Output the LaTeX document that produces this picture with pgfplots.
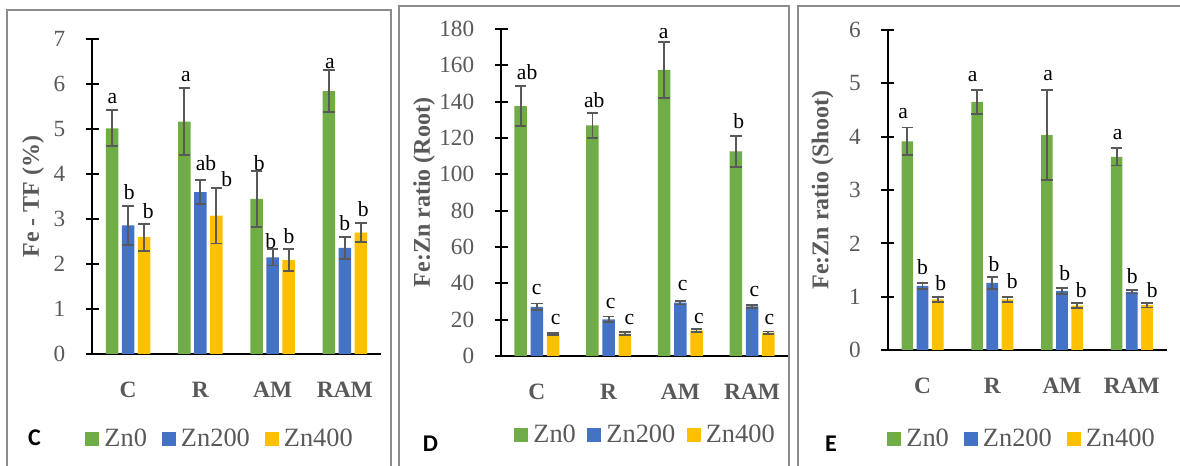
\documentclass[border=0pt]{standalone}
\usepackage{pgfplots}
\pgfplotsset{compat=1.18}
\usepackage{fontspec}
\setmainfont{Liberation Serif}
\newfontfamily\carlito{Carlito}
\definecolor{cgreen}{HTML}{70AD47}
\definecolor{cblue}{HTML}{4472C4}
\definecolor{cyellow}{HTML}{FFC000}
\definecolor{tickgray}{HTML}{595959}
\definecolor{errgray}{HTML}{595959}
\definecolor{bordergray}{HTML}{8C8C8C}
\tikzset{lett/.style={anchor=base, inner sep=0pt, font=\fontsize{10.8}{12}\selectfont, text=black},
  plab/.style={anchor=center, inner sep=0pt, font=\carlito\bfseries\fontsize{12}{14}\selectfont, text=black}}
\pgfplotsset{
 sqleg/.style={legend image code/.code={\draw[##1,draw=none] (0pt,-3.5pt) rectangle (7pt,3.5pt);}},
 panel/.style={
  scale only axis,
  anchor=south west,
  axis lines*=left,
  axis line style={black, line width=1pt},
  ybar,
  ymin=0,
  xmin=-0.5, xmax=3.5,
  xtick={0,1,2,3}, xticklabels={C,R,AM,RAM},
  xtick style={draw=none},
  ytick style={black, line width=1pt},
  tick align=center,
  major tick length=6.5pt,
  /pgf/number format/assume math mode=true,
  yticklabel style={font=\fontsize{11.6}{13}\selectfont, text=tickgray, anchor=east, inner sep=0pt, xshift=-10pt},
  xticklabel style={font=\bfseries\fontsize{11.7}{13}\selectfont, text=tickgray, anchor=base, inner sep=0pt, yshift=-18.3pt},
  every axis y label/.style={rotate=90, anchor=center, font=\bfseries\fontsize{12}{14}\selectfont, text=tickgray},
  legend columns=3,
  legend style={draw=none, fill=none, inner sep=0pt, anchor=west, font=\fontsize{13.2}{15}\selectfont, text=tickgray, nodes={inner sep=0pt}, /tikz/every odd column/.append style={column sep=2.5pt}, /tikz/every even column/.append style={column sep=7.5pt}},
  error bars/y dir=both, error bars/y explicit,
  error bars/error bar style={errgray, line width=0.9pt},
  error bars/error mark options={rotate=90, mark size=2.9pt, line width=0.9pt, errgray},
 }
}
\begin{document}
\begin{tikzpicture}
\useasboundingbox (0,0) rectangle (590pt,233pt);
% panel borders
\draw[bordergray, line width=1pt] (3.6pt,-2pt) -- (3.6pt,227.85pt) -- (195.35pt,227.85pt) -- (195.35pt,-2pt);
\draw[bordergray, line width=1pt] (199.5pt,-2pt) -- (199.5pt,229.85pt) -- (394.5pt,229.85pt) -- (394.5pt,-2pt);
\draw[bordergray, line width=1pt] (398.85pt,-2pt) -- (398.85pt,229.85pt) -- (595pt,229.85pt);

% ---------------- Panel C ----------------
\begin{axis}[panel, at={(46pt,56pt)}, width=144.5pt, height=157.35pt,
  ymax=7, ytick={0,1,...,7},
  ylabel={Fe - TF (\%)},
  every axis y label/.append style={at={(axis description cs:-0.204,0.5)}},
  legend style={at={(axis description cs:-0.024,-0.270)}}]
\addplot[fill=cgreen, draw=none, bar width=6.25pt, bar shift=-8pt, sqleg] coordinates {(0,5.02) +- (0,0.40) (1,5.17) +- (0,0.74) (2,3.45) +- (0,0.62) (3,5.85) +- (0,0.47)};
\addplot[fill=cblue, draw=none, bar width=6.25pt, bar shift=0pt, sqleg] coordinates {(0,2.86) +- (0,0.43) (1,3.60) +- (0,0.27) (2,2.15) +- (0,0.18) (3,2.36) +- (0,0.24)};
\addplot[fill=cyellow, draw=none, bar width=6.25pt, bar shift=8pt, sqleg] coordinates {(0,2.60) +- (0,0.30) (1,3.08) +- (0,0.62) (2,2.09) +- (0,0.24) (3,2.70) +- (0,0.21)};
\legend{Zn0,Zn200,Zn400}
\node[lett] at ([xshift=-7.9pt]axis cs:0,5.57) {a};
\node[lett] at ([xshift=0.6pt]axis cs:0,3.44) {b};
\node[lett] at ([xshift=10.1pt]axis cs:0,3.02) {b};
\node[lett] at ([xshift=-7.2pt]axis cs:1,6.07) {a};
\node[lett] at ([xshift=2.8pt]axis cs:1,4.09) {ab};
\node[lett] at ([xshift=13.15pt]axis cs:1,3.73) {b};
\node[lett] at ([xshift=-6.65pt]axis cs:2,4.09) {b};
\node[lett] at ([xshift=-0.95pt]axis cs:2,2.35) {b};
\node[lett] at ([xshift=8.2pt]axis cs:2,2.46) {b};
\node[lett] at ([xshift=-7.45pt]axis cs:3,6.35) {a};
\node[lett] at ([xshift=0pt]axis cs:3,2.74) {b};
\node[lett] at ([xshift=9.2pt]axis cs:3,3.05) {b};
\end{axis}
\node[plab] at (17.25pt,14.25pt) {C};

% ---------------- Panel D ----------------
\begin{axis}[panel, at={(250.5pt,55pt)}, width=143.5pt, height=163.5pt,
  ymax=180, ytick={0,20,...,180},
  ylabel={Fe:Zn ratio (Root)},
  every axis y label/.append style={at={(axis description cs:-0.268,0.5)}},
  legend style={at={(axis description cs:0.0453,-0.243)}, /tikz/every even column/.append style={column sep=5.75pt}}]
\addplot[fill=cgreen, draw=none, bar width=6.3pt, bar shift=-8.1pt, sqleg] coordinates {(0,137.5) +- (0,11) (1,127) +- (0,6.8) (2,157.5) +- (0,15.5) (3,112.6) +- (0,8.4)};
\addplot[fill=cblue, draw=none, bar width=6.3pt, bar shift=0pt, sqleg] coordinates {(0,27.1) +- (0,1.8) (1,20.2) +- (0,1.5) (2,29.4) +- (0,1.0) (3,27.3) +- (0,0.9)};
\addplot[fill=cyellow, draw=none, bar width=6.3pt, bar shift=8.1pt, sqleg] coordinates {(0,12.1) +- (0,0.7) (1,12.3) +- (0,0.9) (2,14.0) +- (0,0.9) (3,12.8) +- (0,0.7)};
\legend{Zn0,Zn200,Zn400}
\node[lett] at ([xshift=-4.85pt]axis cs:0,152.3) {ab};
\node[lett] at ([xshift=-0.1pt]axis cs:0,33.6) {c};
\node[lett] at ([xshift=9.4pt]axis cs:0,17.1) {c};
\node[lett] at ([xshift=-7.2pt]axis cs:1,136.9) {ab};
\node[lett] at ([xshift=1.05pt]axis cs:1,26.2) {c};
\node[lett] at ([xshift=10.35pt]axis cs:1,17.1) {c};
\node[lett] at ([xshift=-8.35pt]axis cs:2,174.5) {a};
\node[lett] at ([xshift=1.15pt]axis cs:2,35.8) {c};
\node[lett] at ([xshift=9.3pt]axis cs:2,18.0) {c};
\node[lett] at ([xshift=-6.7pt]axis cs:3,125.3) {b};
\node[lett] at ([xshift=1.1pt]axis cs:3,32.6) {c};
\node[lett] at ([xshift=8.6pt]axis cs:3,17.1) {c};
\end{axis}
\node[plab] at (215.25pt,11.25pt) {D};

% ---------------- Panel E ----------------
\begin{axis}[panel, at={(443.85pt,58pt)}, width=139.5pt, height=160pt,
  ymax=6, ytick={0,1,...,6},
  ylabel={Fe:Zn ratio (Shoot)},
  every axis y label/.append style={at={(axis description cs:-0.233,0.5)}},
  legend style={at={(axis description cs:-0.0025,-0.278)}}]
\addplot[fill=cgreen, draw=none, bar width=5.85pt, bar shift=-7.6pt, sqleg] coordinates {(0,3.91) +- (0,0.26) (1,4.65) +- (0,0.22) (2,4.03) +- (0,0.85) (3,3.62) +- (0,0.16)};
\addplot[fill=cblue, draw=none, bar width=5.85pt, bar shift=0pt, sqleg] coordinates {(0,1.20) +- (0,0.055) (1,1.26) +- (0,0.11) (2,1.11) +- (0,0.055) (3,1.09) +- (0,0.03)};
\addplot[fill=cyellow, draw=none, bar width=5.85pt, bar shift=7.6pt, sqleg] coordinates {(0,0.95) +- (0,0.05) (1,0.95) +- (0,0.05) (2,0.83) +- (0,0.05) (3,0.84) +- (0,0.045)};
\legend{Zn0,Zn200,Zn400}
\node[lett] at ([xshift=-9.65pt]axis cs:0,4.34) {a};
\node[lett] at ([xshift=0pt]axis cs:0,1.42) {b};
\node[lett] at ([xshift=9.05pt]axis cs:0,1.11) {b};
\node[lett] at ([xshift=-9.8pt]axis cs:1,5.03) {a};
\node[lett] at ([xshift=0.85pt]axis cs:1,1.47) {b};
\node[lett] at ([xshift=10pt]axis cs:1,1.16) {b};
\node[lett] at ([xshift=-6.9pt]axis cs:2,5.06) {a};
\node[lett] at ([xshift=1.3pt]axis cs:2,1.31) {b};
\node[lett] at ([xshift=9.6pt]axis cs:2,0.98) {b};
\node[lett] at ([xshift=-7.05pt]axis cs:3,3.94) {a};
\node[lett] at ([xshift=0.25pt]axis cs:3,1.25) {b};
\node[lett] at ([xshift=10.25pt]axis cs:3,0.98) {b};
\end{axis}
\node[plab] at (415.5pt,11.25pt) {E};
\end{tikzpicture}
\end{document}
